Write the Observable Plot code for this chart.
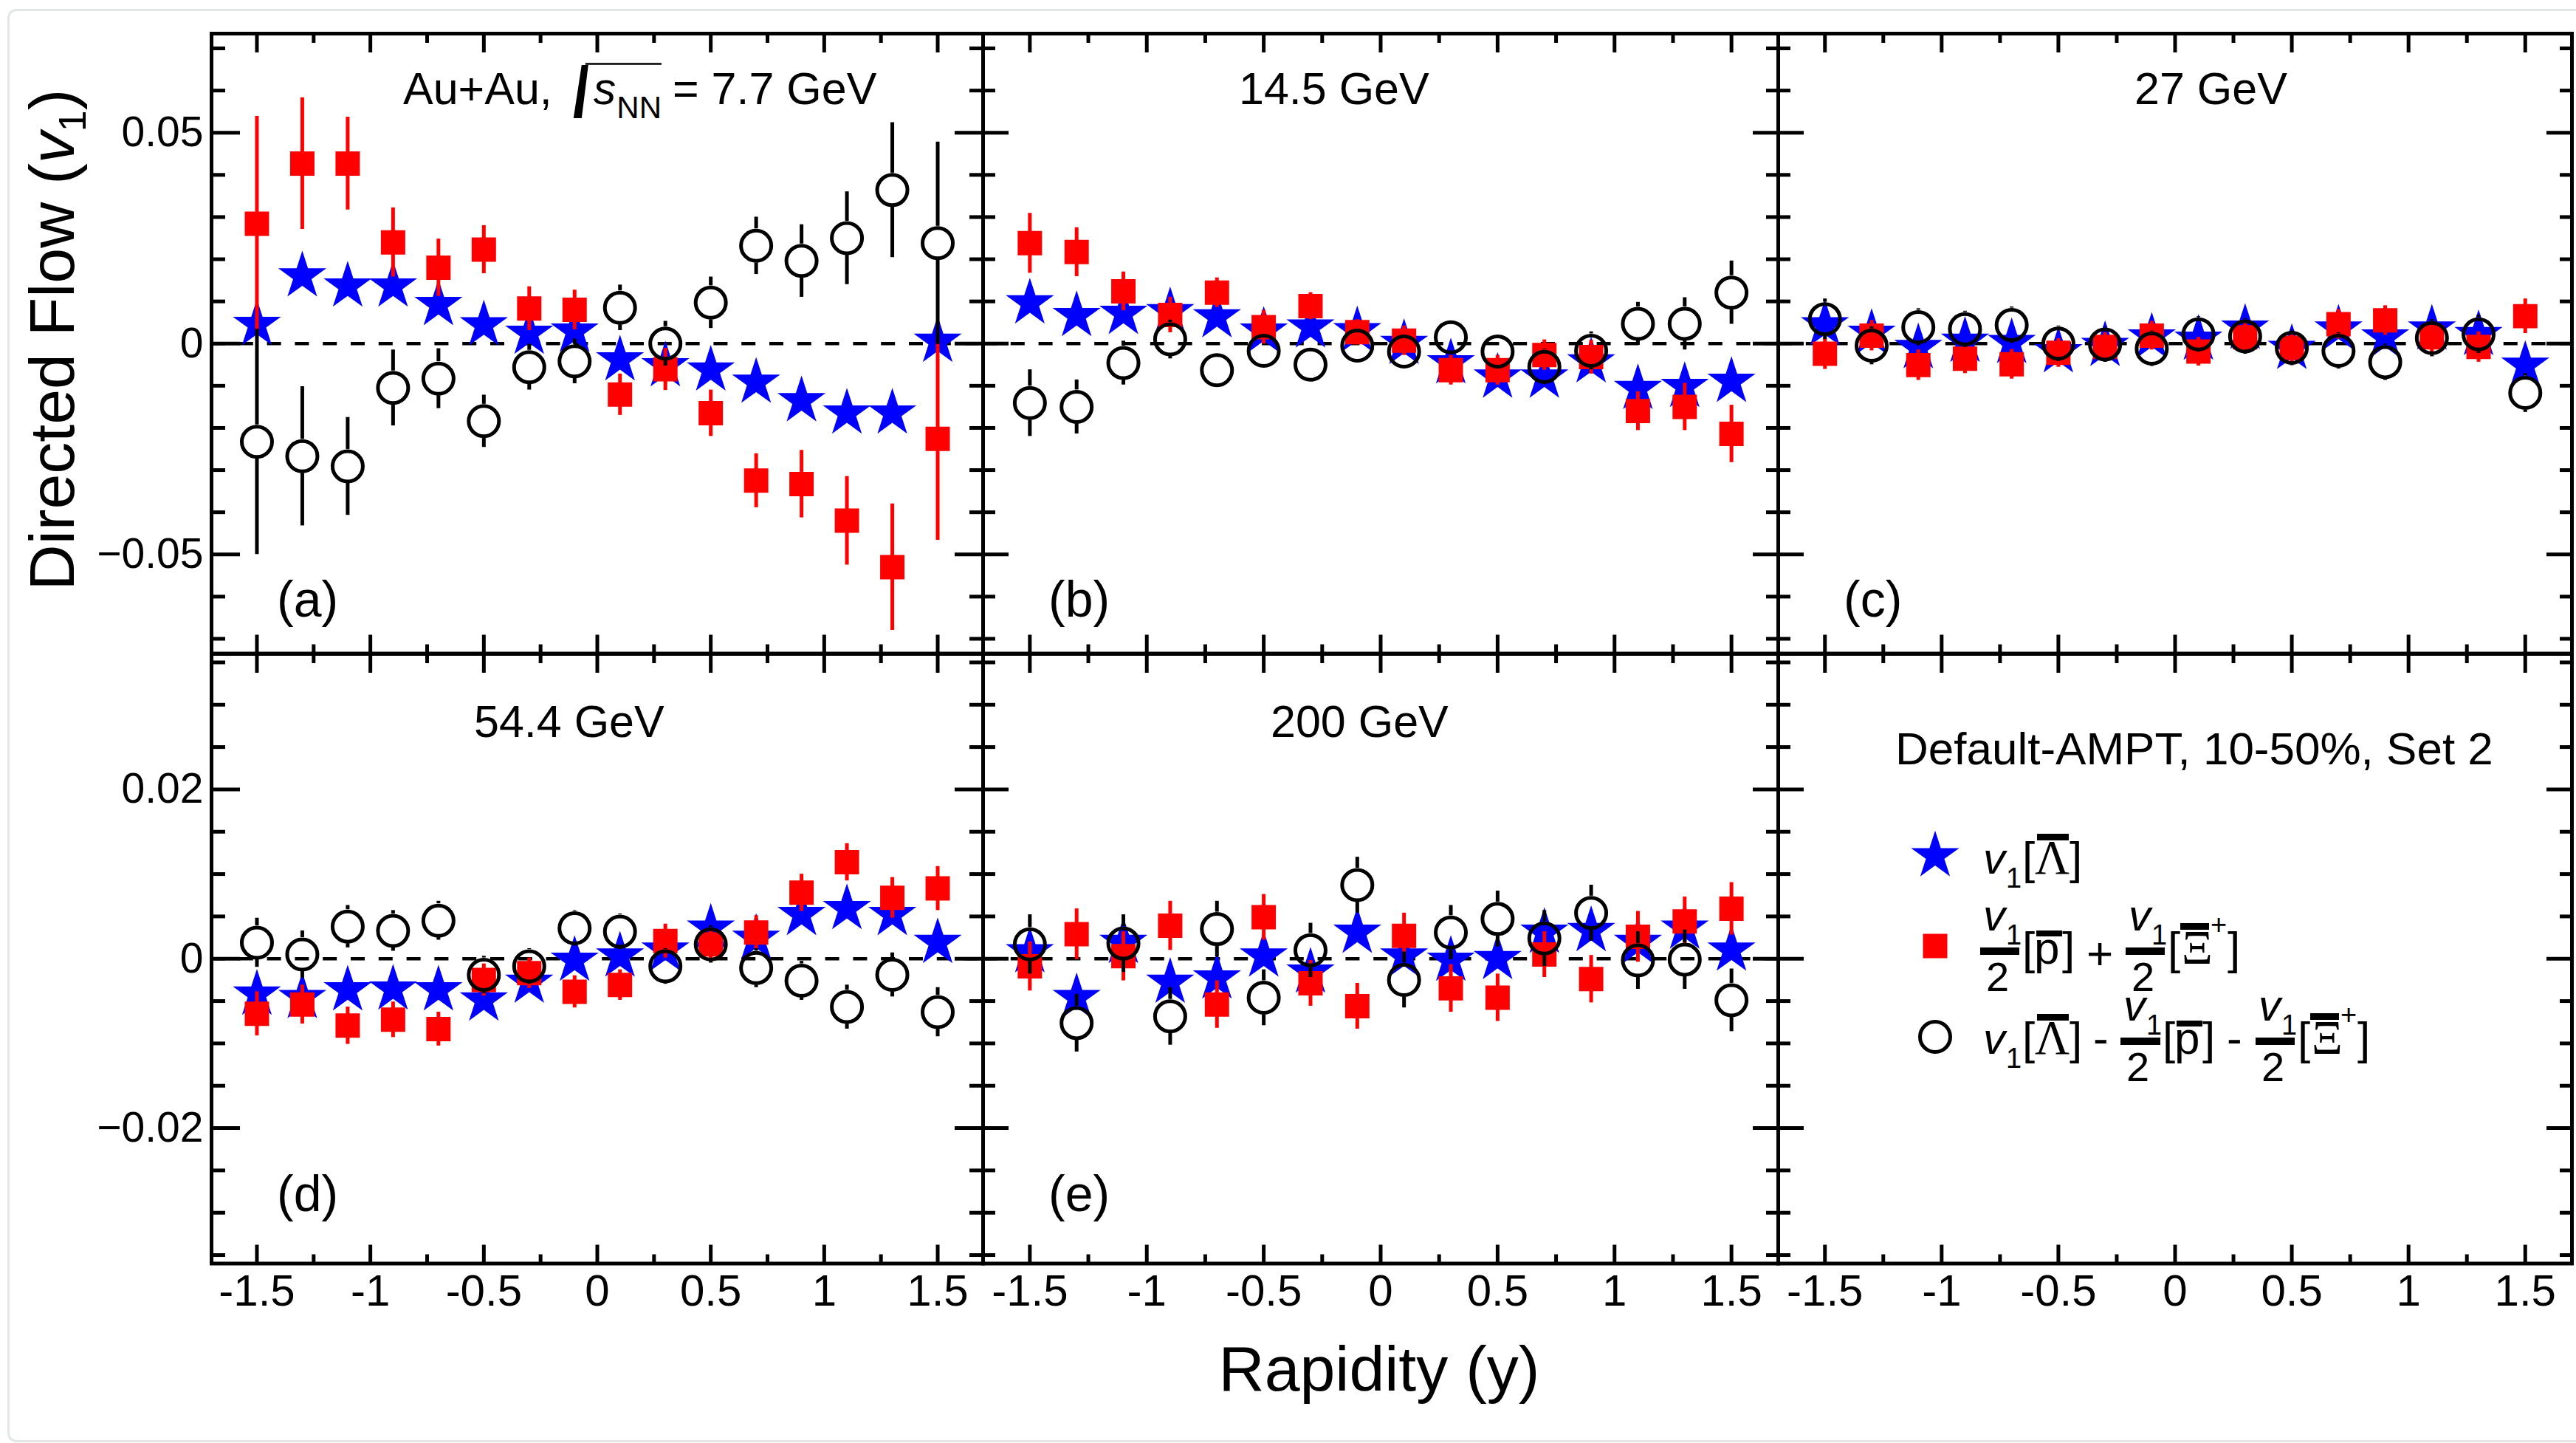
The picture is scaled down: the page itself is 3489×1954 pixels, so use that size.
<!DOCTYPE html>
<html>
<head>
<meta charset="utf-8">
<script src="https://cdn.jsdelivr.net/npm/d3@7"></script>
<script src="https://cdn.jsdelivr.net/npm/@observablehq/plot@0.6"></script>
<style>
  html, body { margin: 0; padding: 0; background: #ffffff; }
  #fig { position: relative; width: 3489px; height: 1954px; background: #ffffff; overflow: hidden; }
  .pnl { position: absolute; }
  .pnl svg { overflow: visible; display: block; }
  #edge { position: absolute; left: 10px; top: 12px; width: 3479px; height: 1941px; box-sizing: border-box;
          border-left: 3px solid #e3e6e6; border-top: 3px solid #e3e6e6; border-bottom: 3px solid #e3e6e6;
          border-top-left-radius: 12px; border-bottom-left-radius: 12px; }
</style>
</head>
<body>
<div id="fig"><div id="edge"></div></div>
<script>
const SANS = '"Liberation Sans", Arial, Helvetica, sans-serif';
const SERIF = '"Liberation Serif", "Times New Roman", serif';

// ---------------- data ----------------
const rapidity = [-1.5, -1.3, -1.1, -0.9, -0.7, -0.5, -0.3, -0.1, 0.1, 0.3, 0.5, 0.7, 0.9, 1.1, 1.3, 1.5];

// 7.7 GeV
const lambda7  = [0.0045, 0.0160, 0.0136, 0.0136, 0.0092, 0.0044, 0.0024, 0.0029, -0.0039, -0.0053, -0.0063, -0.0092, -0.0136, -0.0165, -0.0165, 0.0005];
const pxi7     = [0.0284, 0.0427, 0.0427, 0.0240, 0.0180, 0.0223, 0.0083, 0.0080, -0.0121, -0.0061, -0.0165, -0.0325, -0.0333, -0.0420, -0.0530, -0.0226];
const pxiErr7  = [0.0255, 0.0156, 0.0110, 0.0082, 0.0068, 0.0057, 0.0052, 0.0047, 0.0049, 0.0050, 0.0055, 0.0064, 0.0080, 0.0105, 0.0150, 0.0240];
const diff7    = [-0.0233, -0.0267, -0.0291, -0.0105, -0.0083, -0.0184, -0.0056, -0.0042, 0.0085, 0.0000, 0.0097, 0.0232, 0.0196, 0.0250, 0.0364, 0.0238];
const diffErr7 = [0.0267, 0.0165, 0.0116, 0.0090, 0.0071, 0.0062, 0.0054, 0.0053, 0.0054, 0.0053, 0.0061, 0.0068, 0.0086, 0.0110, 0.0160, 0.0240];

// 14.5 GeV
const lambda14  = [0.0096, 0.0066, 0.0071, 0.0075, 0.0063, 0.0029, 0.0039, 0.0030, 0.0000, -0.0046, -0.0080, -0.0080, -0.0044, -0.0107, -0.0102, -0.0090];
const pxi14     = [0.0238, 0.0217, 0.0124, 0.0068, 0.0121, 0.0039, 0.0089, 0.0027, 0.0007, -0.0063, -0.0063, -0.0027, -0.0032, -0.0160, -0.0150, -0.0214];
const pxiErr14  = [0.0071, 0.0058, 0.0046, 0.0042, 0.0035, 0.0040, 0.0032, 0.0030, 0.0035, 0.0035, 0.0035, 0.0036, 0.0040, 0.0046, 0.0056, 0.0068];
const diff14    = [-0.0141, -0.0150, -0.0046, 0.0010, -0.0063, -0.0017, -0.0050, -0.0005, -0.0019, 0.0015, -0.0019, -0.0055, -0.0017, 0.0047, 0.0047, 0.0121];
const diffErr14 = [0.0079, 0.0064, 0.0052, 0.0046, 0.0040, 0.0040, 0.0037, 0.0038, 0.0039, 0.0038, 0.0040, 0.0042, 0.0045, 0.0051, 0.0062, 0.0075];

// 27 GeV
const lambda27  = [0.0044, 0.0024, -0.0010, 0.0005, 0.0002, -0.0020, -0.0005, 0.0015, 0.0010, 0.0036, -0.0012, 0.0034, 0.0015, 0.0034, 0.0021, -0.0052];
const pxi27     = [-0.0024, 0.0019, -0.0051, -0.0036, -0.0049, -0.0022, -0.0008, 0.0019, -0.0019, 0.0015, -0.0010, 0.0046, 0.0055, 0.0015, -0.0008, 0.0065];
const pxiErr27  = [0.0037, 0.0036, 0.0036, 0.0035, 0.0035, 0.0034, 0.0034, 0.0034, 0.0034, 0.0034, 0.0034, 0.0035, 0.0035, 0.0036, 0.0036, 0.0041];
const diff27    = [0.0058, -0.0005, 0.0039, 0.0034, 0.0044, 0.0000, -0.0002, -0.0012, 0.0022, 0.0017, -0.0010, -0.0017, -0.0044, 0.0013, 0.0022, -0.0117];
const diffErr27 = [0.0048, 0.0045, 0.0044, 0.0043, 0.0043, 0.0042, 0.0042, 0.0042, 0.0042, 0.0042, 0.0042, 0.0043, 0.0043, 0.0044, 0.0045, 0.0046];

// 54.4 GeV
const lambda54  = [-0.0042, -0.0046, -0.0037, -0.0036, -0.0037, -0.0049, -0.0028, -0.0002, 0.0003, 0.0010, 0.0036, 0.0024, 0.0052, 0.0059, 0.0052, 0.0019];
const pxi54     = [-0.0065, -0.0054, -0.0079, -0.0072, -0.0083, -0.0025, -0.0017, -0.0039, -0.0031, 0.0021, 0.0017, 0.0031, 0.0078, 0.0114, 0.0072, 0.0083];
const pxiErr54  = [0.0026, 0.0023, 0.0022, 0.0021, 0.0020, 0.0019, 0.0018, 0.0019, 0.0018, 0.0020, 0.0019, 0.0020, 0.0022, 0.0022, 0.0024, 0.0026];
const diff54    = [0.0019, 0.0005, 0.0038, 0.0033, 0.0045, -0.0019, -0.0009, 0.0036, 0.0032, -0.0009, 0.0017, -0.0011, -0.0026, -0.0057, -0.0019, -0.0063];
const diffErr54 = [0.0029, 0.0028, 0.0025, 0.0024, 0.0023, 0.0022, 0.0021, 0.0021, 0.0021, 0.0021, 0.0022, 0.0023, 0.0023, 0.0026, 0.0026, 0.0029];

// 200 GeV
const lambda200  = [0.0008, -0.0046, 0.0019, -0.0028, -0.0023, 0.0003, -0.0016, 0.0031, 0.0003, -0.0002, 0.0000, 0.0031, 0.0033, 0.0019, 0.0036, 0.0010];
const pxi200     = [-0.0009, 0.0029, 0.0003, 0.0039, -0.0054, 0.0049, -0.0029, -0.0056, 0.0027, -0.0035, -0.0046, 0.0005, -0.0024, 0.0026, 0.0044, 0.0059];
const pxiErr200  = [0.0029, 0.0030, 0.0029, 0.0029, 0.0028, 0.0027, 0.0027, 0.0027, 0.0027, 0.0028, 0.0028, 0.0027, 0.0028, 0.0030, 0.0029, 0.0031];
const diff200    = [0.0017, -0.0076, 0.0018, -0.0068, 0.0035, -0.0046, 0.0010, 0.0087, -0.0025, 0.0031, 0.0047, 0.0024, 0.0054, -0.0002, -0.0001, -0.0049];
const diffErr200 = [0.0035, 0.0034, 0.0034, 0.0034, 0.0033, 0.0033, 0.0032, 0.0033, 0.0033, 0.0032, 0.0033, 0.0033, 0.0033, 0.0034, 0.0035, 0.0037];

// ticks and labels
const xTicksMajor = [-1.5, -1, -0.5, 0, 0.5, 1, 1.5];
const xTicksMinor = [-1.25, -0.75, -0.25, 0.25, 0.75, 1.25];
const xTickLabels = ["-1.5", "-1", "-0.5", "0", "0.5", "1", "1.5"];
const yTicksTop = [-0.05, 0, 0.05];
const yTickLabelsTop = ["\u22120.05", "0", "0.05"];
const yMinorTop = [-0.07, -0.06, -0.04, -0.03, -0.02, -0.01, 0.01, 0.02, 0.03, 0.04, 0.06, 0.07];
const yTicksBottom = [-0.02, 0, 0.02];
const yTickLabelsBottom = ["\u22120.02", "0", "0.02"];
const yMinorBottom = [-0.035, -0.03, -0.025, -0.015, -0.01, -0.005, 0.005, 0.01, 0.015, 0.025, 0.03, 0.035];

const panelLetters = ["(a)", "(b)", "(c)", "(d)", "(e)"];
const energyLabels = ["14.5 GeV", "27 GeV", "54.4 GeV", "200 GeV"];

// ---------------- layout ----------------
const fig = document.getElementById("fig");
const colEdges = [286, 1331, 2408, 3483];
const rowEdges = [45, 884.5, 1710];
const xDomain = [-1.7, 1.7];
const rows = [
  {domain: [-0.0735, 0.0735], major: yTicksTop, minor: yMinorTop, labels: yTickLabelsTop},
  {domain: [-0.036, 0.036], major: yTicksBottom, minor: yMinorBottom, labels: yTickLabelsBottom}
];
const series = [
  {col: 0, row: 0, lam: lambda7, pxi: pxi7, pxiErr: pxiErr7, diff: diff7, diffErr: diffErr7},
  {col: 1, row: 0, lam: lambda14, pxi: pxi14, pxiErr: pxiErr14, diff: diff14, diffErr: diffErr14},
  {col: 2, row: 0, lam: lambda27, pxi: pxi27, pxiErr: pxiErr27, diff: diff27, diffErr: diffErr27},
  {col: 0, row: 1, lam: lambda54, pxi: pxi54, pxiErr: pxiErr54, diff: diff54, diffErr: diffErr54},
  {col: 1, row: 1, lam: lambda200, pxi: pxi200, pxiErr: pxiErr200, diff: diff200, diffErr: diffErr200},
  {col: 2, row: 1, legend: true}
];

const BLUE = "#0000ff", RED = "#ff0000";
const STAR_R = 20.5, SQUARE_R = 18.6, CIRCLE_R = 20.5, CIRCLE_SW = 5;

for (const s of series) {
  const left = colEdges[s.col], right = colEdges[s.col + 1];
  const top = rowEdges[s.row], bottom = rowEdges[s.row + 1];
  const w = right - left, h = bottom - top;
  const R = rows[s.row];
  const pxPerUnit = h / (R.domain[1] - R.domain[0]);
  const yl = s.col === 0 ? 39 : 35, ys = s.col === 0 ? 19 : 17;
  const xl = 25, xs = 12;
  const tk = {fill: "none", stroke: "black", strokeWidth: 5, label: null};
  const marks = [];

  if (!s.legend) {
    const lam = rapidity.map((x, i) => ({x, y: s.lam[i]}));
    const red = rapidity.map((x, i) => ({x, y: s.pxi[i], e: s.pxiErr[i]}));
    const blk = rapidity.map((x, i) => ({x, y: s.diff[i], e: s.diffErr[i]}));
    const gap = CIRCLE_R + CIRCLE_SW / 2;
    const blkBars = blk.filter(d => d.e * pxPerUnit > gap);
    marks.push(
      Plot.ruleY([0], {stroke: "black", strokeWidth: 4.7, strokeDasharray: "19,18.8"}),
      Plot.dot(lam, {x: "x", y: "y", symbol: "star", r: STAR_R, fill: BLUE, stroke: "none"}),
      Plot.ruleX(red, {x: "x", y1: d => d.y - d.e, y2: d => d.y + d.e, stroke: RED, strokeWidth: 5}),
      Plot.dot(red, {x: "x", y: "y", symbol: "square", r: SQUARE_R, fill: RED, stroke: "none"}),
      Plot.ruleX(blkBars, {x: "x", y1: d => d.y + d.e, y2: "y", insetBottom: gap, stroke: "black", strokeWidth: 5}),
      Plot.ruleX(blkBars, {x: "x", y1: "y", y2: d => d.y - d.e, insetTop: gap, stroke: "black", strokeWidth: 5}),
      Plot.dot(blk, {x: "x", y: "y", r: CIRCLE_R, fill: "none", stroke: "black", strokeWidth: CIRCLE_SW})
    );
  } else {
    // legend symbols
    marks.push(
      Plot.dot([0], {frameAnchor: "top-left", dx: 212.5, dy: 273.5, symbol: "star", r: STAR_R, fill: BLUE, stroke: "none"}),
      Plot.dot([0], {frameAnchor: "top-left", dx: 212.5, dy: 395.5, symbol: "square", r: SQUARE_R, fill: RED, stroke: "none"}),
      Plot.dot([0], {frameAnchor: "top-left", dx: 212.5, dy: 518.5, r: CIRCLE_R, fill: "none", stroke: "black", strokeWidth: CIRCLE_SW})
    );
  }

  // inward ticks on all four sides
  marks.push(
    Plot.axisY(R.major, {...tk, anchor: "left", tickSize: yl, dx: yl}),
    Plot.axisY(R.minor, {...tk, anchor: "left", tickSize: ys, dx: ys}),
    Plot.axisY(R.major, {...tk, anchor: "right", tickSize: yl, dx: -yl}),
    Plot.axisY(R.minor, {...tk, anchor: "right", tickSize: ys, dx: -ys}),
    Plot.axisX(xTicksMajor, {...tk, anchor: "bottom", tickSize: xl, dy: -xl}),
    Plot.axisX(xTicksMinor, {...tk, anchor: "bottom", tickSize: xs, dy: -xs}),
    Plot.axisX(xTicksMajor, {...tk, anchor: "top", tickSize: xl, dy: xl}),
    Plot.axisX(xTicksMinor, {...tk, anchor: "top", tickSize: xs, dy: xs})
  );
  if (s.col === 0) {
    marks.push(Plot.axisY(R.major, {anchor: "left", tickSize: 0, tickPadding: 11, fontSize: 57, fill: "black", label: null,
      tickFormat: d => R.labels[R.major.indexOf(d)]}));
  }
  if (s.row === 1) {
    marks.push(Plot.axisX(xTicksMajor, {anchor: "bottom", tickSize: 0, tickPadding: 14, fontSize: 60, fill: "black", label: null,
      tickFormat: d => xTickLabels[xTicksMajor.indexOf(d)]}));
  }
  marks.push(Plot.frame({stroke: "black", strokeWidth: 5}));

  const chart = Plot.plot({
    width: w, height: h,
    marginTop: 0, marginRight: 0, marginBottom: 0, marginLeft: 0,
    x: {domain: xDomain, axis: null},
    y: {domain: R.domain, axis: null},
    style: {overflow: "visible", background: "transparent", fontFamily: SANS, color: "black"},
    marks
  });
  const div = document.createElement("div");
  div.className = "pnl";
  div.style.left = left + "px";
  div.style.top = top + "px";
  div.style.width = w + "px";
  div.style.height = h + "px";
  div.appendChild(chart);
  fig.appendChild(div);
}

// ---------------- annotations ----------------
const ov = d3.select(fig).append("svg")
  .attr("width", 3489).attr("height", 1954)
  .style("position", "absolute").style("left", "0px").style("top", "0px")
  .style("overflow", "visible").style("pointer-events", "none");

function txt(x, y, s, o = {}) {
  const el = ov.append("text").attr("x", x).attr("y", y)
    .attr("font-family", o.serif ? SERIF : SANS)
    .attr("font-size", o.size || 61)
    .attr("font-style", o.italic ? "italic" : null)
    .attr("text-anchor", o.anchor || "start")
    .attr("fill", "black")
    .text(s);
  return el.node().getComputedTextLength();
}
function bar(x1, x2, yTop, th) {
  ov.append("rect").attr("x", x1).attr("y", yTop).attr("width", x2 - x1).attr("height", th).attr("fill", "black");
}
// one text element made of absolutely placed pieces
function rich(parts) {
  const t = ov.append("text").attr("font-family", SANS).attr("fill", "black");
  for (const [x, y, s, o = {}] of parts) {
    t.append("tspan").attr("x", x).attr("y", y)
      .attr("font-size", o.size || 62)
      .attr("font-family", o.serif ? SERIF : null)
      .attr("font-style", o.italic ? "italic" : "normal")
      .text(s);
  }
}

// axis titles
const yTitle = ov.append("text").attr("transform", "translate(100,460) rotate(-90)")
  .attr("text-anchor", "middle").attr("font-family", SANS).attr("font-size", 86).attr("fill", "black");
yTitle.append("tspan").text("Directed Flow (");
yTitle.append("tspan").attr("font-style", "italic").text("v");
yTitle.append("tspan").attr("font-size", 52).attr("dy", 16).text("1");
yTitle.append("tspan").attr("dy", -16).text(")");
txt(1868, 1883, "Rapidity (y)", {size: 86, anchor: "middle"});

// panel letters
panelLetters.forEach((t, i) => {
  const s = series[i];
  const x = colEdges[s.col] + 89;
  const y = s.row === 0 ? rowEdges[1] - 50 : rowEdges[2] - 70;
  txt(x, y, t, {size: 68});
});

// energy labels
{
  let cx = 546;
  cx += txt(cx, 141, "Au+Au,", {size: 61});
  const rx = cx + 29;
  ov.append("path").attr("d", `M${rx},160 L${rx + 11},160 L${rx + 20},88 L${rx + 11},88 Z`).attr("fill", "black");
  const sx = rx + 27;
  const ws = txt(sx, 141, "s", {size: 61, italic: true});
  const nx = sx + ws + 1;
  const wn = txt(nx, 160, "NN", {size: 42});
  ov.append("line").attr("x1", rx + 16).attr("x2", nx + wn).attr("y1", 86.5).attr("y2", 86.5)
    .attr("stroke", "black").attr("stroke-width", 2.5);
  txt(nx + wn + 15, 141, "= 7.7 GeV", {size: 61});
}
txt(1678, 141, energyLabels[0]);
txt(2891, 141, energyLabels[1]);
txt(642, 998, energyLabels[2]);
txt(1721, 998, energyLabels[3]);

// legend text
txt(2567, 1035, "Default-AMPT, 10-50%, Set 2", {size: 62});

function v1(P, x, B) {
  P.push([x, B, "v", {size: 60, italic: true}], [x + 31, B + 19, "1", {size: 38}]);
}
function frac(P, xBar1, xBar2, B) {
  bar(xBar1, xBar2, B - 22, 10);
  v1(P, xBar1 + 4, B - 45);
  P.push([xBar1 + 8, B + 36.5, "2", {size: 56}]);
}
function lamBar(P, x, B) {
  P.push([x, B, "["], [x + 17, B, "\u039B", {size: 65, serif: true}], [x + 64, B, "]"]);
  bar(x + 20, x + 63, B - 54, 9);
}
function pBar(P, x, B) {
  P.push([x, B, "["], [x + 16, B, "p"], [x + 54, B, "]"]);
  bar(x + 19, x + 54, B - 45, 8);
}
function xiBar(P, x, B) {
  P.push([x, B, "["], [x + 19, B, "\u039E", {size: 65, serif: true}], [x + 58, B - 40, "+", {size: 38}], [x + 81, B, "]"]);
  bar(x + 17, x + 56, B - 55, 9);
}

// entry 1
{
  const B = 1183, P = [];
  v1(P, 2686, B);
  lamBar(P, 2739, B);
  rich(P);
}
// entry 2
{
  const B = 1305, P = [];
  frac(P, 2682, 2735, B);
  pBar(P, 2739, B);
  P.push([2826, B + 7, "+"]);
  frac(P, 2879, 2932, B);
  xiBar(P, 2936, B);
  rich(P);
}
// entry 3
{
  const B = 1427, P = [];
  v1(P, 2686, B);
  lamBar(P, 2739, B);
  P.push([2835, B, "-"]);
  frac(P, 2872, 2926, B);
  pBar(P, 2929, B);
  P.push([3016, B, "-"]);
  frac(P, 3055, 3108, B);
  xiBar(P, 3112, B);
  rich(P);
}
</script>
</body>
</html>
